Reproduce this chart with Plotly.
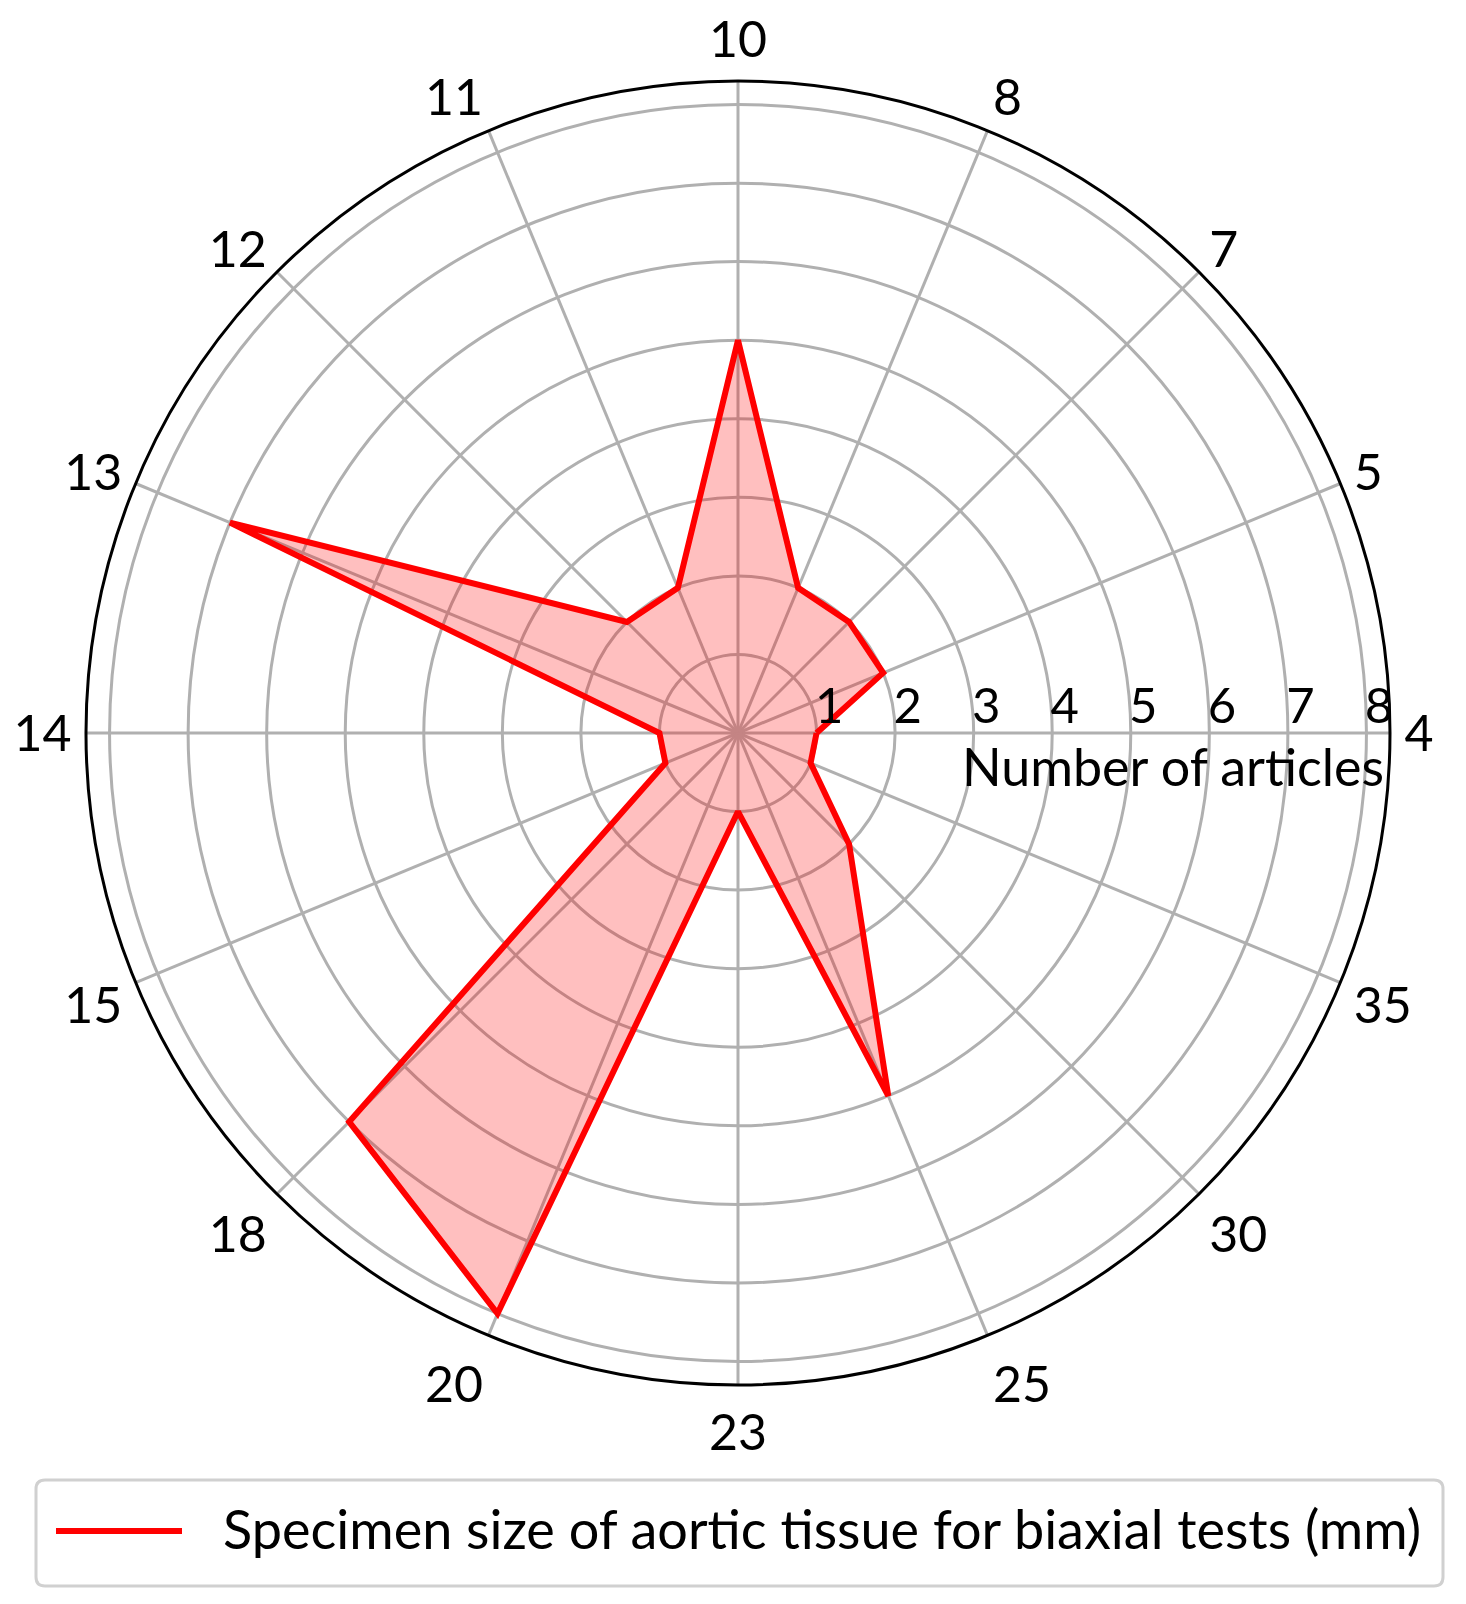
import plotly.graph_objects as go

# specimen size (mm) categories, counterclockwise from 0 deg
sizes = ["4", "5", "7", "8", "10", "11", "12", "13",
         "14", "15", "18", "20", "23", "25", "30", "35"]
# number of articles for each size
articles = [1, 2, 2, 2, 5, 2, 2, 7, 1, 1, 7, 8, 1, 5, 2, 1]
radial_ticks = [1, 2, 3, 4, 5, 6, 7, 8]
series_name = "Specimen size of aortic tissue for biaxial tests (mm)"

FONT = "Lato"
GRID = "#b0b0b0"
W, H = 1466, 1604
OFF = 8  # page margin around the plot div


def px(x, y):
    """screen pixel position -> paper coords"""
    return (x - OFF) / W, 1 - (y - OFF) / H


fig = go.Figure()
fig.add_trace(go.Scatterpolar(
    r=articles + articles[:1],
    theta=sizes + sizes[:1],
    mode="lines",
    fill="toself",
    fillcolor="rgba(255,0,0,0.25)",
    line=dict(color="#ff0000", width=6),
    name=series_name,
    showlegend=False,
))

# legend drawn by hand so that the box and line sample match the original
bx0, by0 = px(36, 1586)
bx1, by1 = px(1443, 1480)
rx, ry = 9 / W, 9 / H
box_path = (
    f"M{bx0 + rx},{by1} L{bx1 - rx},{by1} Q{bx1},{by1} {bx1},{by1 - ry} "
    f"L{bx1},{by0 + ry} Q{bx1},{by0} {bx1 - rx},{by0} "
    f"L{bx0 + rx},{by0} Q{bx0},{by0} {bx0},{by0 + ry} "
    f"L{bx0},{by1 - ry} Q{bx0},{by1} {bx0 + rx},{by1} Z"
)
lx0, ly = px(56, 1531)
lx1, _ = px(182, 1531)
tx, ty = px(221, 1528)
nx, ny = px(1386, 766)

fig.update_layout(
    width=W, height=H,
    paper_bgcolor="white",
    margin=dict(l=0, r=0, t=0, b=0),
    font=dict(family=FONT, size=50, color="black"),
    showlegend=False,
    polar=dict(
        domain=dict(x=[0.0532, 0.9427], y=[0.1415, 0.9545]),
        bgcolor="white",
        angularaxis=dict(
            type="category",
            categoryarray=sizes,
            rotation=0,
            direction="counterclockwise",
            showgrid=True, gridcolor=GRID, gridwidth=2.5,
            showline=True, linecolor="black", linewidth=3,
            ticks="outside", ticklen=3, tickcolor="rgba(0,0,0,0)",
            tickfont=dict(size=50),
        ),
        radialaxis=dict(
            range=[0, 8.3],
            angle=0,
            tickvals=radial_ticks,
            ticktext=["\u00a0\u00a0" + str(v) for v in radial_ticks],
            showgrid=True, gridcolor=GRID, gridwidth=2.5,
            showline=False,
            ticks="",
            side="counterclockwise",
            tickfont=dict(size=49),
        ),
    ),
    shapes=[
        dict(type="path", xref="paper", yref="paper", path=box_path,
             line=dict(color="#d0d0d0", width=3), fillcolor="white"),
        dict(type="line", xref="paper", yref="paper",
             x0=lx0, x1=lx1, y0=ly, y1=ly,
             line=dict(color="#ff0000", width=6)),
    ],
    annotations=[
        dict(text="Number of articles", xref="paper", yref="paper",
             x=nx, y=ny, xanchor="right", yanchor="middle",
             showarrow=False, font=dict(size=52)),
        dict(text=series_name, xref="paper", yref="paper",
             x=tx, y=ty, xanchor="left", yanchor="middle",
             showarrow=False, font=dict(size=54)),
    ],
)

fig.write_html("out.html")
